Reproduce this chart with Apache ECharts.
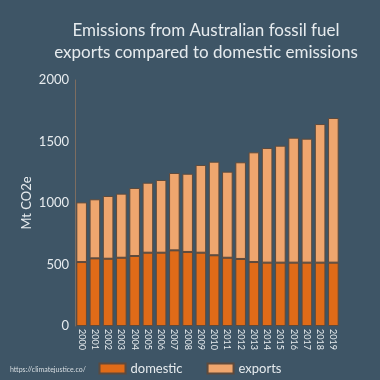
<!DOCTYPE html>
<html><head><meta charset="utf-8">
<script src="https://cdn.jsdelivr.net/npm/echarts@6/dist/echarts.min.js"></script>
<style>html,body{margin:0;padding:0;background:#3e5566;}#c{width:380px;height:380px;}</style>
</head><body><div id="c"></div>
<script>
const years = ['2000','2001','2002','2003','2004','2005','2006','2007','2008','2009','2010','2011','2012','2013','2014','2015','2016','2017','2018','2019'];
const domestic = [520,550,547,555,569,596,596,615,602,596,575,555,545,520,515,515,515,515,515,515];
const totals = [1005,1030,1057,1076,1122,1165,1187,1244,1238,1309,1336,1255,1331,1412,1447,1466,1531,1523,1642,1691];
const exportsVals = totals.map((t,i)=>t-domestic[i]);
const yTicks = [0,500,1000,1500,2000];

const chart = echarts.init(document.getElementById('c'));
const txt = '#e6ebee';
chart.setOption({
  backgroundColor:'#3e5566',
  textStyle:{fontFamily:'Lato'},
  title:{text:'Emissions from Australian fossil fuel\nexports compared to domestic emissions',left:201,top:15,textAlign:'center',
    textStyle:{color:txt,fontSize:17,fontWeight:'normal',fontFamily:'Lato',lineHeight:22}},
  graphic:[{type:'text',left:10,top:366,style:{text:'https://climatejustice.co/',fill:'#d8dee2',fontSize:7,fontFamily:'Lato'}}],
  legend:{data:['domestic','exports'],left:'center',top:357,itemWidth:26,itemHeight:10,itemGap:24,
    textStyle:{color:txt,fontSize:13,fontFamily:'Lato'},icon:'rect'},
  grid:{left:75,right:40,top:80,bottom:54},
  xAxis:{type:'category',data:years,axisLine:{show:false},axisTick:{show:false},
    axisLabel:{rotate:-90,color:txt,fontSize:9,margin:3,fontFamily:'Lato'}},
  yAxis:{type:'value',min:0,max:2000,interval:500,name:'Mt CO2e',nameLocation:'middle',nameGap:42,nameRotate:90,nameMoveOverlap:false,
    nameTextStyle:{color:txt,fontSize:13,fontFamily:'Lato'},
    axisLine:{show:true,lineStyle:{color:'#7d6d60',width:1}},axisTick:{show:false},splitLine:{show:false},
    axisLabel:{color:txt,fontSize:13,margin:6,fontFamily:'Lato',formatter:v=>yTicks.includes(v)?String(v):''}},
  series:[
    {name:'domestic',type:'bar',stack:'a',data:domestic,barWidth:'80%',
      itemStyle:{color:'#e06b18',borderColor:'#5e4a3c',borderWidth:1}},
    {name:'exports',type:'bar',stack:'a',data:exportsVals,barWidth:'80%',
      itemStyle:{color:'#efa66e',borderColor:'#5e4a3c',borderWidth:1}}
  ]
});
</script></body></html>
